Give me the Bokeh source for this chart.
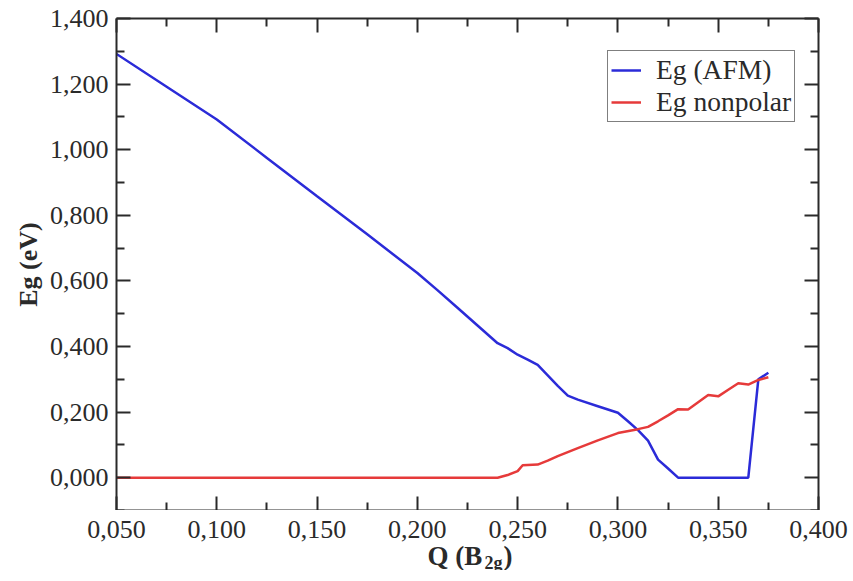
from bokeh.plotting import figure
from bokeh.layouts import column
from bokeh.models import (Range1d, LinearAxis, FixedTicker, CustomJSTickFormatter,
                          Legend, LegendItem)
from bokeh.core.properties import value
from bokeh.embed import file_html
from bokeh.resources import INLINE

# ---- data ----
q_afm = [0.05, 0.075, 0.1, 0.125, 0.15, 0.175, 0.2, 0.21, 0.22, 0.23, 0.24, 0.245, 0.25,
         0.255, 0.26, 0.265, 0.27, 0.275, 0.28, 0.29, 0.3, 0.305, 0.31, 0.315, 0.32,
         0.325, 0.33, 0.365, 0.37, 0.375]
eg_afm = [1.292, 1.192, 1.092, 0.975, 0.858, 0.742, 0.624, 0.572, 0.518, 0.464, 0.410, 0.395,
          0.375, 0.360, 0.344, 0.312, 0.280, 0.250, 0.238, 0.218, 0.198, 0.172, 0.145, 0.113,
          0.055, 0.028, 0.0, 0.0, 0.300, 0.320]

q_np = [0.05, 0.24, 0.245, 0.25, 0.2525, 0.26, 0.265, 0.27, 0.28, 0.29, 0.3, 0.31, 0.315,
        0.32, 0.325, 0.33, 0.335, 0.34, 0.345, 0.35, 0.355, 0.36, 0.365, 0.37, 0.375]
eg_np = [0.0, 0.0, 0.008, 0.020, 0.038, 0.040, 0.052, 0.066, 0.090, 0.114, 0.136, 0.148, 0.155,
         0.172, 0.190, 0.209, 0.208, 0.230, 0.252, 0.248, 0.268, 0.288, 0.284, 0.298, 0.306]

series_names = ["Eg (AFM)", "Eg nonpolar"]
y_label = "Eg (eV)"
x_label_parts = ["Q (B", "2g", ")"]

x_major = [0.05, 0.1, 0.15, 0.2, 0.25, 0.3, 0.35, 0.4]
x_minor = [0.075, 0.125, 0.175, 0.225, 0.275, 0.325, 0.375]
y_major = [0.0, 0.2, 0.4, 0.6, 0.8, 1.0, 1.2, 1.4]
y_minor = [-0.1, 0.1, 0.3, 0.5, 0.7, 0.9, 1.1, 1.3]

FONT = "Liberation Serif"
AX = "#2a2a2a"
FW, FH = 702, 492          # main frame size (px)
BL, BR, BT, BB = 116, 35, 18, 0
STRIP_TOP, STRIP_FH = 27, 33

xr = Range1d(0.05, 0.4)
p = figure(frame_width=FW, frame_height=FH, output_backend="svg", toolbar_location=None,
           x_range=xr, y_range=Range1d(-0.1, 1.4),
           x_axis_type=None, y_axis_type=None, title=None,
           min_border_left=BL, min_border_right=BR, min_border_top=BT, min_border_bottom=BB,
           background_fill_color="white", border_fill_color="white")
p.xgrid.visible = False
p.ygrid.visible = False
p.outline_line_color = None

fmt = CustomJSTickFormatter(code="var t = Math.abs(tick) < 1e-9 ? 0 : tick; return t.toFixed(3).replace('.', ',');")
blank = CustomJSTickFormatter(code="return '';")


def style(ax, labels=True):
    ax.axis_line_color = AX
    ax.axis_line_width = 2
    ax.major_tick_line_color = AX
    ax.major_tick_line_width = 2
    ax.minor_tick_line_color = AX
    ax.minor_tick_line_width = 2
    ax.major_tick_in = 14
    ax.major_tick_out = 0
    ax.minor_tick_in = 8
    ax.minor_tick_out = 0
    ax.major_label_text_font = FONT
    ax.major_label_text_font_size = "26px" if labels else "0px"
    ax.major_label_text_color = AX
    ax.major_label_standoff = 8 if labels else 0


xb = LinearAxis(ticker=FixedTicker(ticks=x_major, minor_ticks=x_minor), formatter=blank)
style(xb, labels=False)
p.add_layout(xb, "below")

yl = LinearAxis(ticker=FixedTicker(ticks=y_major, minor_ticks=y_minor), formatter=fmt,
                axis_label=y_label)
style(yl)
yl.axis_label_text_font = FONT
yl.axis_label_text_font_style = "bold"
yl.axis_label_text_font_size = "26px"
yl.axis_label_text_color = AX
yl.axis_label_standoff = 4
p.add_layout(yl, "left")

xt = LinearAxis(ticker=FixedTicker(ticks=x_major, minor_ticks=x_minor), formatter=blank)
style(xt, labels=False)
p.add_layout(xt, "above")

yr = LinearAxis(ticker=FixedTicker(ticks=y_major, minor_ticks=y_minor), formatter=blank)
style(yr, labels=False)
p.add_layout(yr, "right")

r1 = p.line(q_afm, eg_afm, line_color="#2b2bd8", line_width=2.5)
r2 = p.line(q_np, eg_np, line_color="#e63a3a", line_width=2.5)

legend = Legend(items=[LegendItem(label=series_names[0], renderers=[r1]),
                       LegendItem(label=series_names[1], renderers=[r2])],
                location=(491, 388), border_line_color="black", border_line_width=1,
                label_text_font=FONT, label_text_font_size="27.5px", label_text_color=AX,
                glyph_width=30, glyph_height=20, label_standoff=15, padding=3, spacing=0,
                label_height=20, margin=0, background_fill_color="white", background_fill_alpha=1)
p.add_layout(legend)

# ---- strip below the frame: x tick labels (shared x scale) + x-axis title ----
s = figure(frame_width=FW, frame_height=STRIP_FH, output_backend="svg", toolbar_location=None,
           x_range=xr, y_range=Range1d(STRIP_FH, 0), title=None,
           x_axis_type=None, y_axis_type=None,
           min_border_left=BL, min_border_right=BR, min_border_top=STRIP_TOP, min_border_bottom=0,
           background_fill_color="white", border_fill_color="white")
s.xgrid.visible = False
s.ygrid.visible = False
s.outline_line_color = None

xlab = LinearAxis(ticker=FixedTicker(ticks=x_major, minor_ticks=[]), formatter=fmt)
xlab.axis_line_color = None
xlab.major_tick_line_color = None
xlab.minor_tick_line_color = None
xlab.major_tick_in = 0
xlab.major_tick_out = 0
xlab.major_label_standoff = 0
xlab.major_label_text_font = FONT
xlab.major_label_text_font_size = "26px"
xlab.major_label_text_color = AX
s.add_layout(xlab, "above")

s.text(x=[0.2050], y=[18], text=[x_label_parts[0]], text_font=value(FONT), text_font_style="bold",
       text_font_size="27px", text_color=AX, text_baseline="alphabetic", text_align="left")
s.text(x=[0.2335], y=[25], text=[x_label_parts[1]], text_font=value(FONT), text_font_style="bold",
       text_font_size="18px", text_color=AX, text_baseline="alphabetic", text_align="left")
s.text(x=[0.2429], y=[18], text=[x_label_parts[2]], text_font=value(FONT), text_font_style="bold",
       text_font_size="27px", text_color=AX, text_baseline="alphabetic", text_align="left")

layout = column(p, s, spacing=0)
open("out.html", "w").write(file_html(layout, INLINE))
